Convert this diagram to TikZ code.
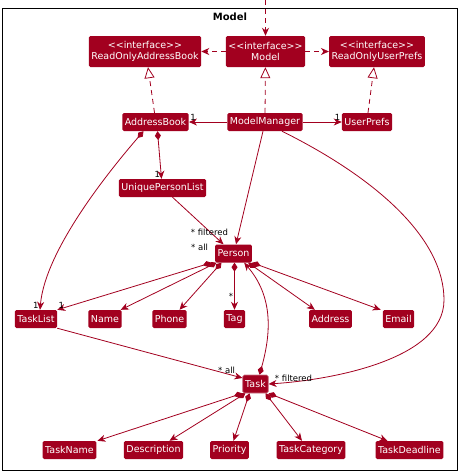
\documentclass[tikz,border=0pt]{standalone}
\usepackage{fontspec}
\setmainfont{DejaVu Sans}
\usetikzlibrary{arrows.meta}
\definecolor{umlred}{HTML}{A2001F}

\begin{document}
\begin{tikzpicture}[x=1pt,y=-1pt,
    cls/.style={fill=umlred,text=white,rounded corners=1.5pt,inner xsep=2.5pt,inner ysep=0pt,
        minimum height=18pt,font=\fontsize{9.5}{11}\selectfont},
    iface/.style={cls,minimum height=31pt,align=center},
    lbl/.style={text=black,inner sep=1pt,font=\fontsize{8.5}{9}\selectfont},
    assoc/.style={umlred,line width=0.8pt,-{Stealth[length=8pt,width=7pt,inset=2.5pt]}},
    dep/.style={assoc,dash pattern=on 5pt off 4pt},
    real/.style={umlred,line width=0.8pt,dash pattern=on 5pt off 4pt,-{Triangle[open,length=11pt,width=10pt,fill=white]}},
    comp/.style={umlred,line width=0.8pt,{Diamond[length=9pt,width=6pt]}-{Stealth[length=8pt,width=7pt,inset=2.5pt]}}]
    \useasboundingbox (0,0) rectangle (464,475);

    % Package frame
    \draw[black,line width=0.8pt] (2,8) rectangle (457,470);
    \node[font=\bfseries\fontsize{10}{11}\selectfont] (title) at (230,17) {Model};

    % Interfaces
    \node[iface] (roab) at (145,51.5) {<{}<interface>{}>\\ReadOnlyAddressBook};
    \node[iface] (model) at (265.5,51.5) {<{}<interface>{}>\\Model};
    \node[iface] (rour) at (377,51.5) {<{}<interface>{}>\\ReadOnlyUserPrefs};

    % Classes
    \node[cls] (ab) at (155.5,122) {AddressBook};
    \node[cls] (mm) at (265,122) {ModelManager};
    \node[cls] (up) at (367,122) {UserPrefs};
    \node[cls] (upl) at (162.5,188) {UniquePersonList};
    \node[cls] (person) at (233.5,253.5) {Person};

    % Person fields
    \node[cls] (tl) at (36,319) {TaskList};
    \node[cls] (name) at (105,319) {Name};
    \node[cls] (phone) at (169.5,319) {Phone};
    \node[cls] (tag) at (234.5,319) {Tag};
    \node[cls] (addr) at (330.5,319) {Address};
    \node[cls] (email) at (398.5,319) {Email};

    % Task and its fields
    \node[cls,draw=umlred!55!white,line width=0.6pt] (task) at (255.5,384) {Task};
    \node[cls] (tname) at (69.5,450) {TaskName};
    \node[cls] (desc) at (153.5,450) {Description};
    \node[cls] (prio) at (229.5,450) {Priority};
    \node[cls] (tcat) at (311,450) {TaskCategory};
    \node[cls] (tdl) at (409.5,450) {TaskDeadline};

    % Dependencies and realizations
    \coordinate (logic) at (265.5,0);
    \draw[dep] (logic) -- (model);
    \draw[dep] (model) -- (roab);
    \draw[dep] (model) -- (rour);
    \draw[real] ([xshift=-1pt]ab.north) -- ([xshift=3pt]roab.south);
    \draw[real] (mm) -- (model);
    \draw[real] ([xshift=1pt]up.north) -- ([xshift=-3pt]rour.south);

    % Associations of ModelManager
    \draw[assoc] (mm) -- (ab) node[lbl,pos=1,above right] {1};
    \draw[assoc] (mm) -- (up) node[lbl,pos=1,above left] {1};
    \draw[assoc] ([xshift=-2pt]mm.south) -- ([xshift=2.5pt]person.north);
    \draw[assoc] ([xshift=17pt]mm.south) .. controls (380,180) and (444,240) .. (444,300)
        .. controls (444,360) and (330,380) .. (task.east)
        node[lbl,anchor=south west,xshift=5pt,yshift=1pt] {* filtered};

    % AddressBook contents
    \draw[comp] ([xshift=-12pt]ab.south) .. controls (110,170) and (45,250) .. ([xshift=4pt]tl.north)
        node[lbl,pos=1,above left] {1};
    \draw[comp] ([xshift=2pt]ab.south) -- ([xshift=-1pt]upl.north) node[lbl,pos=1,above left] {1};
    \draw[assoc] ([xshift=10pt]upl.south) -- ([xshift=-10pt]person.north)
        node[lbl,anchor=south east,xshift=6pt,yshift=7pt] {* filtered}
        node[lbl,anchor=north east,xshift=-14pt,yshift=2pt] {* all};

    % Person fields
    \draw[comp] ([xshift=-22pt]person.south) -- (tl.north east) node[lbl,pos=1,above right] {1};
    \draw[comp] ([xshift=-17pt]person.south) -- ([xshift=-1pt]name.north east);
    \draw[comp] ([xshift=-12pt]person.south) -- ([xshift=10pt]phone.north);
    \draw[comp] ([xshift=1pt]person.south) -- (tag.north) node[lbl,pos=0.72,left] {*};
    \draw[comp] ([xshift=-4pt]person.south east) -- ([xshift=6pt]addr.north west);
    \draw[comp] (person.south east) -- ([xshift=-2pt]email.north west);
    \draw[comp] ([xshift=4pt]task.north) .. controls (272,330) and (272,295) .. ([xshift=-8pt]person.south east);

    % Task fields
    \draw[assoc] (tl.south east) -- ([yshift=6pt]task.west)
        node[lbl,anchor=south east,xshift=-6pt,yshift=3pt] {* all};
    \draw[comp] (task.south west) -- ([xshift=1pt]tname.north east);
    \draw[comp] ([xshift=3pt]task.south west) -- ([xshift=16pt]desc.north);
    \draw[comp] ([xshift=-6pt]task.south) -- ([xshift=4pt]prio.north);
    \draw[comp] ([xshift=10pt]task.south) -- ([xshift=-9pt]tcat.north);
    \draw[comp] (task.south east) -- ([xshift=12pt]tdl.north west);
\end{tikzpicture}
\end{document}
